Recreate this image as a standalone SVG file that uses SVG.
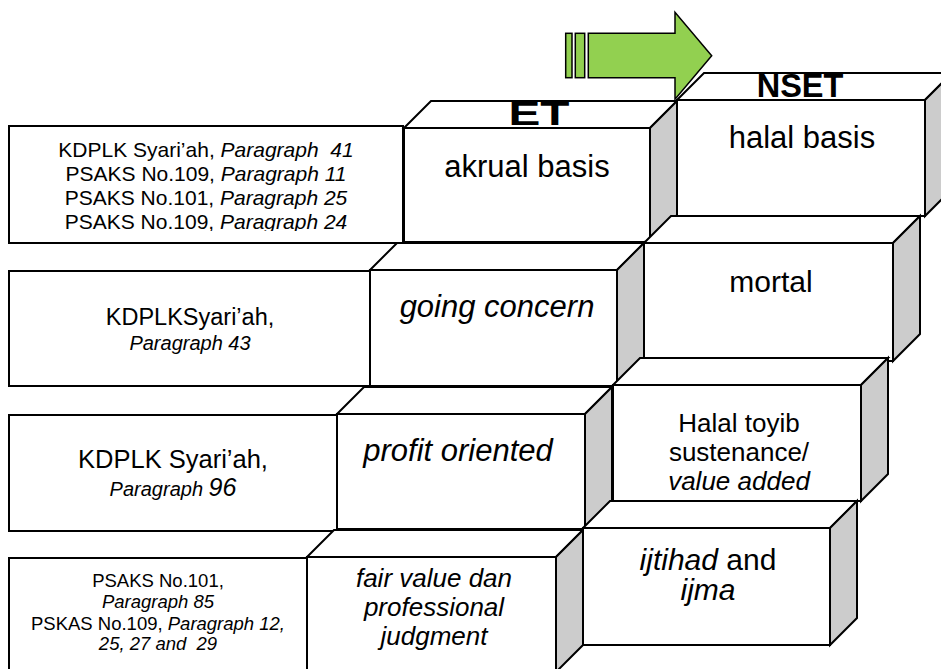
<svg xmlns="http://www.w3.org/2000/svg" width="941" height="669" viewBox="0 0 941 669">
<style>
  .box{fill:#ffffff;stroke:#000000;stroke-width:2;stroke-linejoin:miter}
  .side{fill:#cccccc;stroke:#000000;stroke-width:2;stroke-linejoin:miter}
  .t{font-family:"Liberation Sans",Arial,sans-serif;fill:#000000;text-anchor:middle}
  .i{font-style:italic}
  .hd{font-family:"Liberation Sans",Arial,sans-serif;font-weight:bold;fill:#000000;text-anchor:middle}
  .arr{fill:#92d050;stroke:#000000;stroke-width:1.5;stroke-linejoin:miter}
</style>
<defs>
  <clipPath id="clip1"><rect x="9" y="126" width="394" height="105"/></clipPath>
</defs>
<rect width="941" height="669" fill="#ffffff"/>

<g id="arrow">
  <rect class="arr" x="565.7" y="33.3" width="6.3" height="44.4"/>
  <rect class="arr" x="575.3" y="33.3" width="9.4" height="44.4"/>
  <polygon class="arr" points="588.3,33.3 675,33.3 675,12.3 711.7,55.8 675,99.3 675,77.7 588.3,77.7"/>
</g>

<!-- Row 1 -->
<g id="left1">
  <rect class="box" x="9" y="126" width="394" height="117"/>
  <g clip-path="url(#clip1)">
    <text class="t" x="206" y="157" font-size="21" xml:space="preserve">KDPLK Syari’ah, <tspan class="i">Paragraph  41</tspan></text>
    <text class="t" x="206" y="181" font-size="21">PSAKS No.109, <tspan class="i">Paragraph 11</tspan></text>
    <text class="t" x="206" y="205" font-size="21">PSAKS No.101, <tspan class="i">Paragraph 25</tspan></text>
    <text class="t" x="206" y="229" font-size="21">PSAKS No.109, <tspan class="i">Paragraph 24</tspan></text>
  </g>
</g>
<g id="et1">
  <polygon class="box" points="404,128 431,101 677,101 650,128"/>
  <polygon class="side" points="650,128 677,101 677,215 650,242"/>
  <rect class="box" x="404" y="128" width="246" height="114"/>
  <text class="hd" x="539" y="125" font-size="32.5" textLength="61" lengthAdjust="spacingAndGlyphs">ET</text>
  <text class="t" x="527" y="177" font-size="31">akrual basis</text>
</g>
<g id="nset1">
  <polygon class="box" points="677,100 704,73 952,73 925,100"/>
  <polygon class="side" points="925,100 952,73 952,189 925,216"/>
  <rect class="box" x="677" y="100" width="248" height="116"/>
  <text class="hd" x="800" y="97" font-size="32.5">NSET</text>
  <text class="t" x="802" y="148" font-size="31">halal basis</text>
</g>

<!-- Row 2 -->
<g id="left2">
  <rect class="box" x="9" y="271" width="361" height="115"/>
  <text class="t" x="190" y="325" font-size="23.5">KDPLKSyari’ah,</text>
  <text class="t i" x="190" y="350" font-size="20">Paragraph 43</text>
</g>
<g id="et2">
  <polygon class="box" points="370,270 397,243 644,243 617,270"/>
  <polygon class="side" points="617,270 644,243 644,359 617,386"/>
  <rect class="box" x="370" y="270" width="247" height="116"/>
  <text class="t i" x="497" y="317" font-size="31">going concern</text>
</g>
<g id="nset2">
  <polygon class="box" points="644,243 671,216 920,216 893,243"/>
  <polygon class="side" points="893,243 920,216 920,334 893,361"/>
  <rect class="box" x="644" y="243" width="249" height="118"/>
  <text class="t" x="771" y="292" font-size="30">mortal</text>
</g>

<!-- Row 3 -->
<g id="left3">
  <rect class="box" x="9" y="415" width="328" height="116"/>
  <text class="t" x="173" y="468" font-size="25.5">KDPLK Syari’ah,</text>
  <text class="t i" x="173" y="496" font-size="20">Paragraph <tspan font-size="25">96</tspan></text>
</g>
<g id="et3">
  <polygon class="box" points="337,414 364,387 612,387 585,414"/>
  <polygon class="side" points="585,414 612,387 612,502 585,529"/>
  <rect class="box" x="337" y="414" width="248" height="115"/>
  <text class="t i" x="458" y="461" font-size="31">profit oriented</text>
</g>
<g id="nset3">
  <polygon class="box" points="613,385 640,358 888,358 861,385"/>
  <polygon class="side" points="861,385 888,358 888,474 861,501"/>
  <rect class="box" x="613" y="385" width="248" height="116"/>
  <text class="t" x="739" y="432" font-size="26">Halal toyib</text>
  <text class="t" x="739" y="461" font-size="26">sustenance/</text>
  <text class="t i" x="739" y="490" font-size="26">value added</text>
</g>

<!-- Row 4 -->
<g id="left4">
  <rect class="box" x="9" y="558" width="298" height="115"/>
  <text class="t" x="158" y="587" font-size="18.5">PSAKS No.101,</text>
  <text class="t i" x="158" y="608" font-size="18.5">Paragraph 85</text>
  <text class="t" x="158" y="630" font-size="18.5">PSKAS No.109, <tspan class="i">Paragraph 12,</tspan></text>
  <text class="t i" x="158" y="650" font-size="18.5" xml:space="preserve">25, 27 and  29</text>
</g>
<g id="et4">
  <polygon class="box" points="307,557 334,530 583,530 556,557"/>
  <polygon class="side" points="556,557 583,530 583,645 556,672"/>
  <rect class="box" x="307" y="557" width="249" height="115"/>
  <text class="t i" x="434" y="587" font-size="26">fair value dan</text>
  <text class="t i" x="434" y="616" font-size="26">professional</text>
  <text class="t i" x="434" y="645" font-size="26">judgment</text>
</g>
<g id="nset4">
  <polygon class="box" points="583,528 610,501 857,501 830,528"/>
  <polygon class="side" points="830,528 857,501 857,618 830,645"/>
  <rect class="box" x="583" y="528" width="247" height="117"/>
  <text class="t" x="708" y="570" font-size="30"><tspan class="i">ijtihad</tspan> and</text>
  <text class="t i" x="708" y="600" font-size="30">ijma</text>
</g>
</svg>
